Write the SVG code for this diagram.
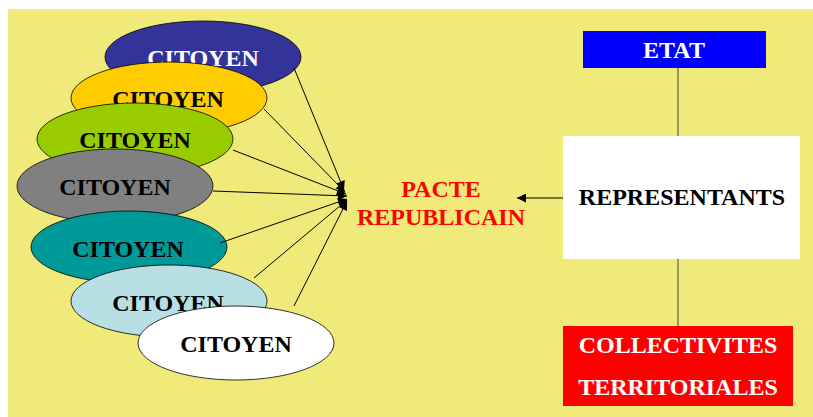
<svg xmlns="http://www.w3.org/2000/svg" width="813" height="417" viewBox="0 0 813 417">
<defs>
<marker id="ah" viewBox="0 0 10 10" refX="10" refY="5" markerWidth="10" markerHeight="9" markerUnits="userSpaceOnUse" orient="auto">
<path d="M0,0 L10,5 L0,10 z" fill="#000"/>
</marker>
<style>
.el{stroke:#000;stroke-width:0.8}
.t{font-family:"Liberation Serif","Times New Roman",serif;font-weight:bold;font-size:24px;text-anchor:middle}
.conn line{stroke:#000;stroke-width:1}
</style>
</defs>
<rect x="0" y="0" width="813" height="417" fill="#fff"/>
<rect x="8" y="9" width="805" height="408" fill="#EFEA7A"/>
<g id="citoyen1"><ellipse class="el" cx="203" cy="57" rx="98" ry="36" fill="#333399"/><text class="t" x="203" y="66" fill="#fff">CITOYEN</text></g>
<g id="citoyen2"><ellipse class="el" cx="169" cy="98" rx="98" ry="36" fill="#FFCC00"/><text class="t" x="168" y="107" fill="#000">CITOYEN</text></g>
<g id="citoyen3"><ellipse class="el" cx="135" cy="139" rx="98" ry="36" fill="#99CC00"/><text class="t" x="135" y="148" fill="#000">CITOYEN</text></g>
<g id="citoyen4"><ellipse class="el" cx="115" cy="186" rx="98" ry="37" fill="#808080"/><text class="t" x="115" y="195" fill="#000">CITOYEN</text></g>
<g id="citoyen5"><ellipse class="el" cx="129" cy="247" rx="98" ry="36" fill="#009999"/><text class="t" x="128" y="257" fill="#000">CITOYEN</text></g>
<g id="citoyen6"><ellipse class="el" cx="169" cy="301" rx="98" ry="36" fill="#B8DFE3"/><text class="t" x="168" y="311" fill="#000">CITOYEN</text></g>
<g id="citoyen7"><ellipse class="el" cx="236" cy="343" rx="98" ry="37" fill="#fff"/><text class="t" x="236" y="352" fill="#000">CITOYEN</text></g>
<g id="pacte"><text class="t" x="441" y="197" fill="#FF0000">PACTE</text><text class="t" x="441" y="225" fill="#FF0000">REPUBLICAIN</text></g>
<g id="etat"><rect x="583" y="31" width="183" height="37" fill="#0000FF"/><text class="t" x="674" y="58" fill="#fff">ETAT</text></g>
<g id="representants"><rect x="563" y="136" width="237" height="123" fill="#fff"/><text class="t" x="682" y="205" fill="#000">REPRESENTANTS</text></g>
<g id="collectivites"><rect x="563" y="326" width="230" height="80" fill="#FF0000"/><text class="t" x="678" y="353" fill="#fff">COLLECTIVITES</text><text class="t" x="678" y="395" fill="#fff">TERRITORIALES</text></g>
<g class="conn" id="connectors">
<line x1="294" y1="68" x2="344" y2="190" marker-end="url(#ah)"/>
<line x1="264" y1="109" x2="345" y2="192" marker-end="url(#ah)"/>
<line x1="233" y1="150" x2="346" y2="194" marker-end="url(#ah)"/>
<line x1="213" y1="191" x2="347" y2="196" marker-end="url(#ah)"/>
<line x1="220" y1="243" x2="347" y2="199" marker-end="url(#ah)"/>
<line x1="254" y1="278" x2="347" y2="200" marker-end="url(#ah)"/>
<line x1="294" y1="306" x2="347" y2="201" marker-end="url(#ah)"/>
<line x1="563" y1="198" x2="517" y2="198" marker-end="url(#ah)"/>
<line x1="678" y1="68" x2="678" y2="136" style="stroke:#444"/>
<line x1="678" y1="259" x2="678" y2="326" style="stroke:#444"/>
</g>
</svg>
